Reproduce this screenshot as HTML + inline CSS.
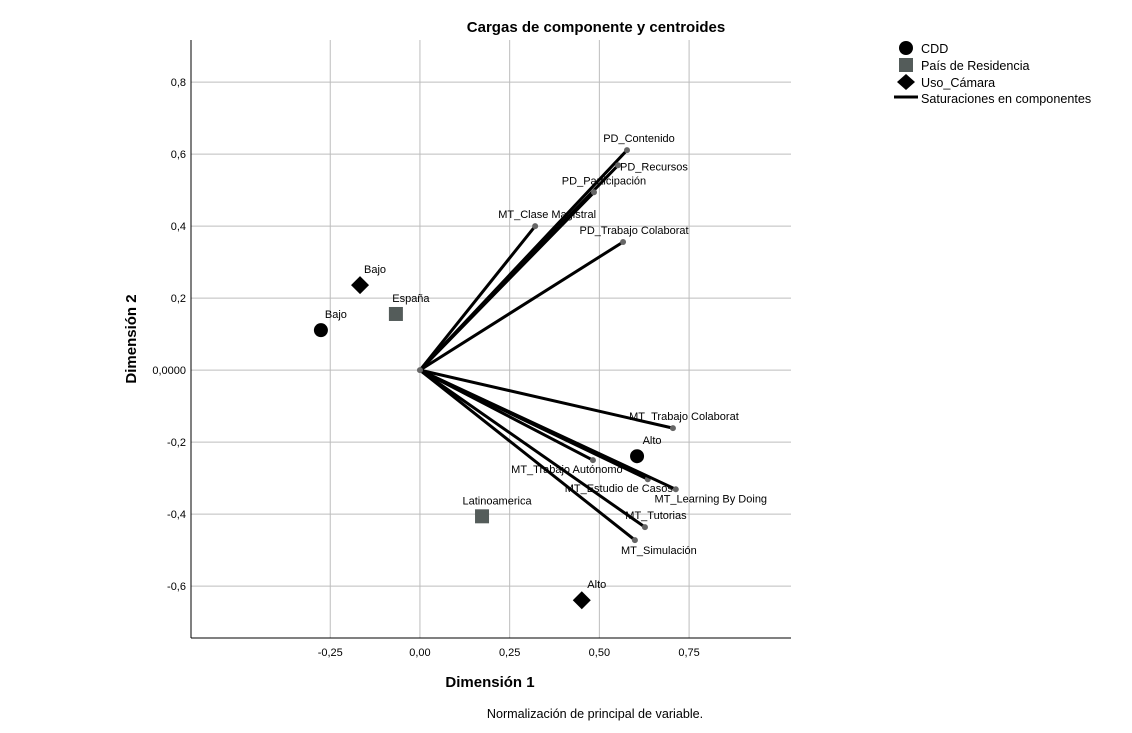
<!DOCTYPE html>
<html><head><meta charset="utf-8"><style>
body{margin:0;background:#fff;}
svg{display:block;font-family:"Liberation Sans",Arial,sans-serif;}
</style></head><body>
<svg id="chart" width="1132" height="733">
<text x="596" y="32" text-anchor="middle" font-size="15" font-weight="bold">Cargas de componente y centroides</text>
<g id="grid"></g>
<g id="axes"></g>
<g id="lines"></g>
<g id="marks"></g>
<text x="490" y="687" text-anchor="middle" font-size="15" font-weight="bold">Dimensión 1</text>
<text transform="translate(136,339) rotate(-90)" text-anchor="middle" font-size="15" font-weight="bold">Dimensión 2</text>
<text x="595" y="718" text-anchor="middle" font-size="12.6">Normalización de principal de variable.</text>
<g font-size="12.6">
<g><circle cx="906" cy="48" r="7" fill="#000"/><text x="921" y="53">CDD</text></g>
<g><rect x="899" y="58" width="14" height="14" fill="#545c5a"/><text x="921" y="70">País de Residencia</text></g>
<g><polygon points="906,74 915,82 906,90 897,82" fill="#000"/><text x="921" y="87">Uso_Cámara</text></g>
<g><line x1="894" y1="97" x2="918" y2="97" stroke="#000" stroke-width="3"/><text x="921" y="103">Saturaciones en componentes</text></g>
</g>
</svg>
<script>
const xTicks=[-0.25,0,0.25,0.5,0.75];
const xTickLabels=["-0,25","0,00","0,25","0,50","0,75"];
const yTicks=[0.8,0.6,0.4,0.2,0,-0.2,-0.4,-0.6];
const yTickLabels=["0,8","0,6","0,4","0,2","0,0000","-0,2","-0,4","-0,6"];
const loadNames=["PD_Contenido","PD_Recursos","PD_Participación","MT_Clase Magistral","PD_Trabajo Colaborat","MT_Trabajo Colaborat","MT_Trabajo Autónomo","MT_Estudio de Casos","MT_Learning By Doing","MT_Tutorias","MT_Simulación"];
const loadX=[0.577,0.552,0.485,0.321,0.566,0.705,0.482,0.635,0.713,0.627,0.599];
const loadY=[0.611,0.569,0.494,0.400,0.356,-0.161,-0.250,-0.303,-0.331,-0.436,-0.472];
const loadLabelDx=[12,2,10,12,11,11,-26,-29,35,11,24];
const loadLabelDy=[-8,5,-8,-8,-8,-8,13,13,13,-8,14];
const loadLabelAnchor=["middle","start","middle","middle","middle","middle","middle","middle","middle","middle","middle"];
const cenNames=["Bajo","Alto","España","Latinoamerica","Bajo","Alto"];
const cenGroup=["cdd","cdd","pais","pais","uso","uso"];
const cenX=[-0.276,0.605,-0.067,0.173,-0.167,0.451];
const cenY=[0.111,-0.239,0.156,-0.406,0.236,-0.639];
const X0=191,X1=791,Y0=40,Y1=638;
const xMin=-0.638,xMax=1.034,yMin=-0.744,yMax=0.917;
function sx(v){return X0+(v-xMin)/(xMax-xMin)*(X1-X0);}
function sy(v){return Y1-(v-yMin)/(yMax-yMin)*(Y1-Y0);}
const NS="http://www.w3.org/2000/svg";
function mk(p,t,a){const e=document.createElementNS(NS,t);for(const k in a)e.setAttribute(k,a[k]);p.appendChild(e);return e;}
const grid=document.getElementById('grid'),axes=document.getElementById('axes'),lines=document.getElementById('lines'),marks=document.getElementById('marks');
xTicks.forEach((t,i)=>{
 const l=mk(grid,'line',{x1:sx(t),x2:sx(t),y1:Y0,y2:Y1,stroke:'#bdbdbd','stroke-width':1});
 
 
 const tx=mk(axes,'text',{x:sx(t),y:Y1+18,'text-anchor':'middle','font-size':11});tx.textContent=xTickLabels[i];
 
 
});
yTicks.forEach((t,i)=>{
 const l=mk(grid,'line',{x1:X0,x2:X1,y1:sy(t),y2:sy(t),stroke:'#bdbdbd','stroke-width':1});
 
 
 const tx=mk(axes,'text',{x:X0-5,y:sy(t)+4,'text-anchor':'end','font-size':11});tx.textContent=yTickLabels[i];
 
 
});
const ax1=mk(axes,'line',{x1:X0,x2:X0,y1:Y0,y2:Y1,stroke:'#000'});


const ax2=mk(axes,'line',{x1:X0,x2:X1,y1:Y1,y2:Y1,stroke:'#000'});


const ox=sx(0),oy=sy(0);
loadNames.forEach((n,i)=>{
 const px=sx(loadX[i]),py=sy(loadY[i]);
 const l=mk(lines,'line',{x1:ox,y1:oy,x2:px,y2:py,stroke:'#000','stroke-width':3});
 
 
 const c=mk(lines,'circle',{cx:px,cy:py,r:3,fill:'#666'});
 
 
 const t=mk(lines,'text',{x:px+loadLabelDx[i],y:py+loadLabelDy[i],'text-anchor':loadLabelAnchor[i],'font-size':11});t.textContent=n;
 
 
});
const oc=mk(lines,'circle',{cx:ox,cy:oy,r:3,fill:'#666'});


cenNames.forEach((n,i)=>{
 const px=sx(cenX[i]),py=sy(cenY[i]);let e;
 if(cenGroup[i]==='cdd')e=mk(marks,'circle',{cx:px,cy:py,r:7,fill:'#000'});
 else if(cenGroup[i]==='pais')e=mk(marks,'rect',{x:px-7,y:py-7,width:14,height:14,fill:'#545c5a'});
 else e=mk(marks,'polygon',{points:`${px},${py-9} ${px+9},${py} ${px},${py+9} ${px-9},${py}`,fill:'#000'});
 
 
 const t=mk(marks,'text',{x:px+15,y:py-12,'text-anchor':'middle','font-size':11});t.textContent=n;
 
 
});
</script>
</body></html>
